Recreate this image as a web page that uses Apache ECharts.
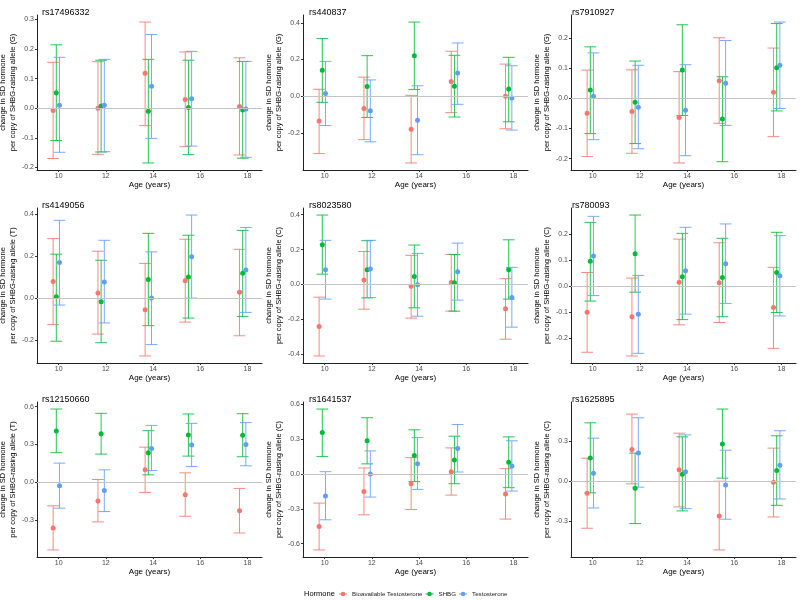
<!DOCTYPE html>
<html><head><meta charset="utf-8">
<script src="https://cdn.jsdelivr.net/npm/echarts@6/dist/echarts.min.js"></script>
<style>html,body{margin:0;padding:0;background:#fff}#c{width:800px;height:600px}</style>
</head><body><div id="c"></div><script>
// ---------- DATA ----------
const hormones = ['Bioavailable Testosterone', 'SHBG', 'Testosterone'];
const ages = [9.9, 11.8, 13.8, 15.5, 17.8];
const xTicks = [10, 12, 14, 16, 18];
const snps = ['rs17496332','rs440837','rs7910927','rs4149056','rs8023580','rs780093','rs12150660','rs1641537','rs1625895'];
const alleles = ['G','G','G','T','C','C','T','C','C'];
const yTicks = [
  [-0.2,-0.1,0,0.1,0.2,0.3],
  [-0.2,0,0.2,0.4],
  [-0.2,-0.1,0,0.1,0.2],
  [-0.2,0,0.2,0.4],
  [-0.4,-0.2,0,0.2,0.4],
  [-0.2,-0.1,0,0.1,0.2],
  [-0.3,0,0.3,0.6],
  [-0.6,-0.3,0,0.3,0.6],
  [-0.3,0,0.3]
];
// each: [Bioavailable Testosterone], [SHBG], [Testosterone] across ages
const est_rs17496332 = [[-0.008,0.000,0.118,0.029,0.006],[0.052,0.007,-0.010,0.002,-0.006],[0.010,0.010,0.074,0.032,-0.003]];
const lo_rs17496332  = [[-0.170,-0.156,-0.059,-0.130,-0.158],[-0.109,-0.148,-0.185,-0.157,-0.169],[-0.149,-0.147,-0.102,-0.128,-0.166]];
const hi_rs17496332  = [[0.155,0.157,0.291,0.190,0.170],[0.214,0.162,0.165,0.162,0.158],[0.172,0.165,0.249,0.192,0.158]];

const est_rs440837 = [[-0.135,-0.066,-0.179,0.080,0.000],[0.141,0.053,0.221,0.055,0.040],[0.015,-0.079,-0.130,0.126,-0.009]];
const lo_rs440837  = [[-0.312,-0.236,-0.363,-0.089,-0.177],[-0.033,-0.115,0.037,-0.113,-0.139],[-0.159,-0.248,-0.318,-0.044,-0.184]];
const hi_rs440837  = [[0.038,0.104,0.005,0.245,0.175],[0.314,0.221,0.404,0.223,0.212],[0.190,0.089,0.057,0.290,0.166]];

const est_rs7910927 = [[-0.050,-0.044,-0.064,0.058,0.020],[0.027,-0.013,0.093,-0.069,0.101],[0.007,-0.030,-0.040,0.050,0.109]];
const lo_rs7910927  = [[-0.193,-0.182,-0.214,-0.083,-0.127],[-0.117,-0.150,-0.057,-0.210,-0.042],[-0.137,-0.167,-0.190,-0.090,-0.034]];
const hi_rs7910927  = [[0.093,0.094,0.088,0.200,0.166],[0.170,0.123,0.243,0.071,0.247],[0.150,0.109,0.111,0.191,0.252]];

const est_rs4149056 = [[0.079,0.024,-0.055,0.082,0.028],[0.006,-0.017,0.088,0.101,0.118],[0.169,0.077,0.000,0.197,0.134]];
const lo_rs4149056  = [[-0.126,-0.171,-0.275,-0.114,-0.179],[-0.205,-0.212,-0.131,-0.095,-0.087],[-0.033,-0.118,-0.221,0.000,-0.068]];
const hi_rs4149056  = [[0.283,0.223,0.165,0.280,0.232],[0.209,0.180,0.308,0.299,0.322],[0.370,0.275,0.220,0.395,0.336]];

const est_rs8023580 = [[-0.241,0.025,-0.011,0.011,-0.140],[0.228,0.084,0.046,0.010,0.084],[0.084,0.088,-0.002,0.073,-0.075]];
const lo_rs8023580  = [[-0.410,-0.142,-0.193,-0.153,-0.314],[0.059,-0.077,-0.134,-0.153,-0.084],[-0.084,-0.075,-0.182,-0.090,-0.245]];
const hi_rs8023580  = [[-0.073,0.189,0.167,0.172,0.033],[0.398,0.251,0.226,0.172,0.256],[0.253,0.253,0.178,0.237,0.098]];

const est_rs780093 = [[-0.100,-0.117,0.015,0.013,-0.082],[0.095,0.124,0.036,0.033,0.052],[0.115,-0.107,0.059,0.086,0.040]];
const lo_rs780093  = [[-0.253,-0.267,-0.148,-0.139,-0.238],[-0.057,-0.023,-0.128,-0.117,-0.101],[-0.036,-0.257,-0.107,-0.066,-0.114]];
const hi_rs780093  = [[0.052,0.031,0.180,0.166,0.072],[0.244,0.272,0.202,0.183,0.206],[0.267,0.041,0.225,0.238,0.193]];

const est_rs12150660 = [[-0.364,-0.149,0.098,-0.101,-0.228],[0.406,0.385,0.234,0.374,0.372],[-0.029,-0.066,0.268,0.295,0.300]];
const lo_rs12150660  = [[-0.539,-0.316,-0.082,-0.271,-0.404],[0.234,0.223,0.058,0.207,0.202],[-0.207,-0.234,0.093,0.125,0.130]];
const hi_rs12150660  = [[-0.188,0.021,0.278,0.074,-0.050],[0.581,0.547,0.409,0.542,0.544],[0.151,0.098,0.451,0.467,0.473]];

const est_rs1641537 = [[-0.453,-0.150,-0.084,0.020,-0.173],[0.358,0.286,0.159,0.121,0.101],[-0.190,0.000,0.089,0.219,0.069]];
const lo_rs1641537  = [[-0.655,-0.352,-0.306,-0.182,-0.389],[0.150,0.087,-0.066,-0.084,-0.118],[-0.395,-0.199,-0.133,0.017,-0.147]];
const hi_rs1641537  = [[-0.251,0.052,0.141,0.225,0.046],[0.560,0.485,0.381,0.326,0.320],[0.020,0.199,0.314,0.427,0.286]];

const est_rs1625895 = [[-0.091,0.239,0.086,-0.262,-0.008],[0.176,-0.053,0.053,0.282,0.081],[0.060,0.214,0.071,-0.028,0.121]];
const lo_rs1625895  = [[-0.355,-0.020,-0.194,-0.519,-0.270],[-0.088,-0.320,-0.224,0.023,-0.182],[-0.202,-0.045,-0.207,-0.287,-0.134]];
const hi_rs1625895  = [[0.174,0.507,0.363,0.000,0.250],[0.441,0.212,0.335,0.545,0.343],[0.325,0.479,0.350,0.234,0.381]];

const estList = [est_rs17496332, est_rs440837, est_rs7910927, est_rs4149056, est_rs8023580, est_rs780093, est_rs12150660, est_rs1641537, est_rs1625895];
const loList  = [lo_rs17496332, lo_rs440837, lo_rs7910927, lo_rs4149056, lo_rs8023580, lo_rs780093, lo_rs12150660, lo_rs1641537, lo_rs1625895];
const hiList  = [hi_rs17496332, hi_rs440837, hi_rs7910927, hi_rs4149056, hi_rs8023580, hi_rs780093, hi_rs12150660, hi_rs1641537, hi_rs1625895];

// ---------- STYLE / LAYOUT ----------
const FONT = '"Liberation Sans", Arial, sans-serif';
const COLORS = ['#F8766D', '#00BA38', '#619CFF'];
const DODGE = [-0.135, 0, 0.135];
const CAP = 0.25;
const colLeft = [37, 303, 571], gridW = 225;
const rowTop = [15, 208, 402], gridH = 155;
const titleLeft = [37, 304, 567];
const titleTop = [3, 196, 390];

const xLoData = ages[0] + DODGE[0] - CAP, xHiData = ages[ages.length-1] + DODGE[2] + CAP;
const xPad = (xHiData - xLoData) * 0.05;
const xMin = xLoData - xPad, xMax = xHiData + xPad;

const grids = [], xAxes = [], yAxes = [], series = [], titles = [];

snps.forEach((snp, i) => {
  const r = Math.floor(i / 3), c = i % 3;
  grids.push({left: colLeft[c], top: rowTop[r], width: gridW, height: gridH, outerBoundsMode: 'none'});
  titles.push({text: snp, left: titleLeft[c], top: titleTop[r],
    textStyle: {fontFamily: FONT, fontSize: 9, fontWeight: 'normal', color: '#000'}});
  const allVals = [].concat(...loList[i], ...hiList[i]);
  const dmin = Math.min(...allVals), dmax = Math.max(...allVals);
  const pad = (dmax - dmin) * 0.05;
  xAxes.push({
    gridIndex: i, type: 'value', min: xMin, max: xMax,
    name: 'Age (years)', nameLocation: 'middle', nameGap: 10,
    nameTextStyle: {fontFamily: FONT, fontSize: 8, color: '#000', verticalAlign: 'top'},
    axisLine: {onZero: false, lineStyle: {color: '#222', width: 1}},
    axisTick: {customValues: xTicks, length: 2, lineStyle: {color: '#333'}},
    axisLabel: {customValues: xTicks, fontFamily: FONT, fontSize: 7, color: '#4d4d4d', margin: 3},
    splitLine: {show: false}
  });
  yAxes.push({
    gridIndex: i, type: 'value', min: dmin - pad, max: dmax + pad,
    name: 'change in SD hormone\nper copy of SHBG-raising allele (' + alleles[i] + ')',
    nameLocation: 'middle', nameGap: 8, nameRotate: 90,
    nameTextStyle: {fontFamily: FONT, fontSize: 7.5, color: '#000', lineHeight: 10},
    axisLine: {onZero: false, lineStyle: {color: '#222', width: 1}},
    axisTick: {customValues: yTicks[i], length: 2, lineStyle: {color: '#333'}},
    axisLabel: {customValues: yTicks[i], fontFamily: FONT, fontSize: 7, color: '#4d4d4d', margin: 3,
      formatter: v => v.toFixed(1)},
    splitLine: {show: false}
  });
  hormones.forEach((h, k) => {
    const barData = ages.map((a, j) => [a + DODGE[k], loList[i][k][j], hiList[i][k][j]]);
    const s = {
      type: 'custom', name: h, xAxisIndex: i, yAxisIndex: i, data: barData,
      itemStyle: {color: COLORS[k]},
      encode: {x: 0, y: [1, 2]},
      silent: true,
      renderItem: (params, api) => {
        const x = api.value(0), lo = api.value(1), hi = api.value(2);
        const pT = api.coord([x, hi]), pB = api.coord([x, lo]);
        const pL = api.coord([x - CAP, hi]), pR = api.coord([x + CAP, hi]);
        const hw = (pR[0] - pL[0]) / 2;
        const st = {stroke: COLORS[k], lineWidth: 1, fill: null, opacity: 0.85};
        return {type: 'group', children: [
          {type: 'line', shape: {x1: pT[0], y1: pT[1], x2: pB[0], y2: pB[1]}, style: st},
          {type: 'line', shape: {x1: pT[0] - hw, y1: pT[1], x2: pT[0] + hw, y2: pT[1]}, style: st},
          {type: 'line', shape: {x1: pB[0] - hw, y1: pB[1], x2: pB[0] + hw, y2: pB[1]}, style: st}
        ]};
      }
    };
    if (k === 0) {
      s.markLine = {silent: true, symbol: ['none', 'none'], label: {show: false},
        lineStyle: {color: '#c4c4c4', width: 1, type: 'solid'}, data: [{yAxis: 0}], animation: false};
    }
    series.push(s);
  });
  hormones.forEach((h, k) => {
    series.push({
      type: 'scatter', name: h, xAxisIndex: i, yAxisIndex: i,
      data: ages.map((a, j) => [a + DODGE[k], estList[i][k][j]]),
      symbol: 'circle', symbolSize: 5, itemStyle: {color: COLORS[k], opacity: 1}, silent: true
    });
  });
});

titles.push({text: 'Hormone', left: 299, top: 585,
  textStyle: {fontFamily: FONT, fontSize: 7.5, fontWeight: 'normal', color: '#000'}});

const keyIcon = 'path://M0,1.5h1.6v1h-1.6z M5.4,1.5h1.6v1h-1.6z M5.5,2a2,2 0 1,1 -4,0a2,2 0 1,1 4,0z';

const option = {
  animation: false,
  color: COLORS,
  title: titles,
  legend: {
    left: 334, top: 586, orient: 'horizontal', itemGap: 3, itemWidth: 8, itemHeight: 4.6,
    data: hormones.map(h => ({name: h, icon: keyIcon})),
    textStyle: {fontFamily: FONT, fontSize: 6.2, color: '#1a1a1a'},
    selectedMode: false
  },
  grid: grids, xAxis: xAxes, yAxis: yAxes, series: series
};

const chart = echarts.init(document.getElementById('c'), null, {renderer: 'canvas'});
chart.setOption(option);
</script></body></html>
